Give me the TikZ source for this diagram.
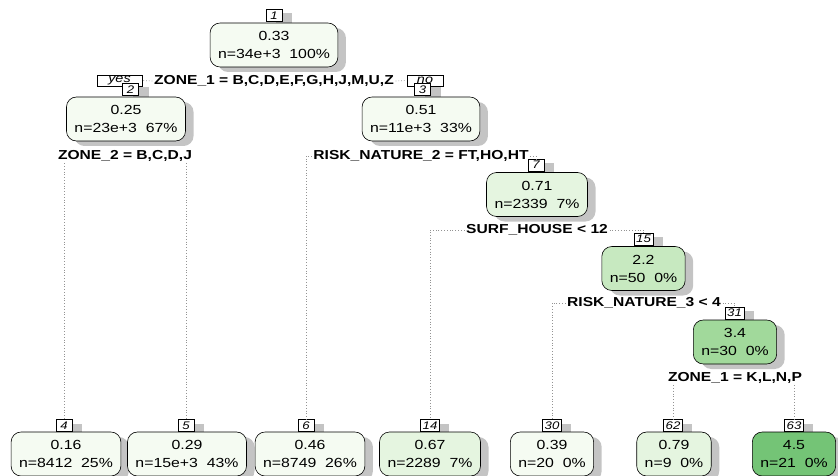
\documentclass[tikz,border=0pt]{standalone}
\usepackage{fontspec}
\setmainfont{Liberation Sans}[FakeStretch=1.2]
\usetikzlibrary{shadows}
\definecolor{g0}{HTML}{F5FBF2}
\definecolor{g1}{HTML}{E5F5E0}
\definecolor{g2}{HTML}{C7E9C0}
\definecolor{g3}{HTML}{A1D99B}
\definecolor{g4}{HTML}{74C476}
\definecolor{shd}{HTML}{C4C4C4}
\begin{document}
\begin{tikzpicture}[x=1pt,y=-1pt,
  tbox/.style={draw=black, line width=0.6pt, rounded corners=10pt, align=center,
    font=\fontsize{13.2}{18}\selectfont, inner xsep=8pt, inner ysep=3pt, minimum height=44pt,
    drop shadow={shadow xshift=8pt, shadow yshift=-5pt, fill=shd, opacity=1}},
  nlab/.style={draw=black, fill=white, line width=0.6pt, font=\fontsize{11}{11}\selectfont\itshape,
    inner xsep=2pt, inner ysep=0pt, minimum height=12pt, minimum width=16pt,
    drop shadow={shadow xshift=10pt, shadow yshift=-4pt, fill=shd, opacity=1}},
  yn/.style={draw=black, fill=white, line width=0.6pt, font=\fontsize{12}{12}\selectfont\itshape,
    inner sep=0pt, minimum height=11pt},
  splt/.style={font=\fontsize{13}{13}\selectfont\bfseries, inner sep=1.5pt},
  br/.style={draw=gray!85, line width=0.7pt, dash pattern=on 0.8pt off 2pt}
]
\useasboundingbox (0,0) rectangle (838,476);

% root
\node[nlab] (l1) at (274,15.5) {1};
\node[tbox, fill=g0] (n1) at (274,45) {0.33\\n=34e+3\ \ 100\%};
\node[yn, minimum width=45pt] (yes) at (119.5,80.5) {yes};
\node[yn, minimum width=36pt] (no) at (425,80.5) {no};
\node[splt] (s1) at (274,81) {ZONE\_1 = B,C,D,E,F,G,H,J,M,U,Z};

% node 2
\node[nlab] (l2) at (130.5,89.5) {2};
\node[tbox, fill=g0] (n2) at (126,119) {0.25\\n=23e+3\ \ 67\%};
\node[splt] (s2) at (125,156) {ZONE\_2 = B,C,D,J};

% node 3
\node[nlab] (l3) at (422.5,89.5) {3};
\node[tbox, fill=g0] (n3) at (421,119) {0.51\\n=11e+3\ \ 33\%};
\node[splt] (s3) at (421,156) {RISK\_NATURE\_2 = FT,HO,HT};

% node 7
\node[nlab] (l7) at (536,165) {7};
\node[tbox, fill=g1] (n7) at (537,194.5) {0.71\\n=2339\ \ 7\%};
\node[splt] (s7) at (537,230) {SURF\_HOUSE < 12};

% node 15
\node[nlab] (l15) at (643.5,239) {15};
\node[tbox, fill=g2] (n15) at (643.5,268.5) {2.2\\n=50\ \ 0\%};
\node[splt] (s15) at (644,303) {RISK\_NATURE\_3 < 4};

% node 31
\node[nlab] (l31) at (734.5,313) {31};
\node[tbox, fill=g3] (n31) at (735,342) {3.4\\n=30\ \ 0\%};
\node[splt] (s31) at (735,378) {ZONE\_1 = K,L,N,P};

% leaves
\node[nlab] (l4) at (64,425.5) {4};
\node[tbox, fill=g0] (n4) at (66,454) {0.16\\n=8412\ \ 25\%};
\node[nlab] (l5) at (186,425.5) {5};
\node[tbox, fill=g0] (n5) at (187,454) {0.29\\n=15e+3\ \ 43\%};
\node[nlab] (l6) at (306,425.5) {6};
\node[tbox, fill=g0] (n6) at (310,454) {0.46\\n=8749\ \ 26\%};
\node[nlab] (l14) at (430,425.5) {14};
\node[tbox, fill=g1] (n14) at (430,454) {0.67\\n=2289\ \ 7\%};
\node[nlab] (l30) at (552,425.5) {30};
\node[tbox, fill=g0] (n30) at (552,454) {0.39\\n=20\ \ 0\%};
\node[nlab] (l62) at (673,425.5) {62};
\node[tbox, fill=g1] (n62) at (674,454) {0.79\\n=9\ \ 0\%};
\node[nlab] (l63) at (794,425.5) {63};
\node[tbox, fill=g4] (n63) at (794,454) {4.5\\n=21\ \ 0\%};

% branches
\draw[br] (s1.west) -- (yes.east);
\draw[br] (s1.east) -- (no.west);
\draw[br] (s2.south -| l4.north) -- (l4.north);
\draw[br] (s2.south -| l5.north) -- (l5.north);
\draw[br] (s3.west) -| (l6.north);
\draw[br] (s3.east) -| (l7.north);
\draw[br] (s7.west) -| (l14.north);
\draw[br] (s7.east) -| (l15.north);
\draw[br] (s15.west) -| (l30.north);
\draw[br] (s15.east) -| (l31.north);
\draw[br] (s31.south -| l62.north) -- (l62.north);
\draw[br] (s31.south -| l63.north) -- (l63.north);
\end{tikzpicture}
\end{document}
